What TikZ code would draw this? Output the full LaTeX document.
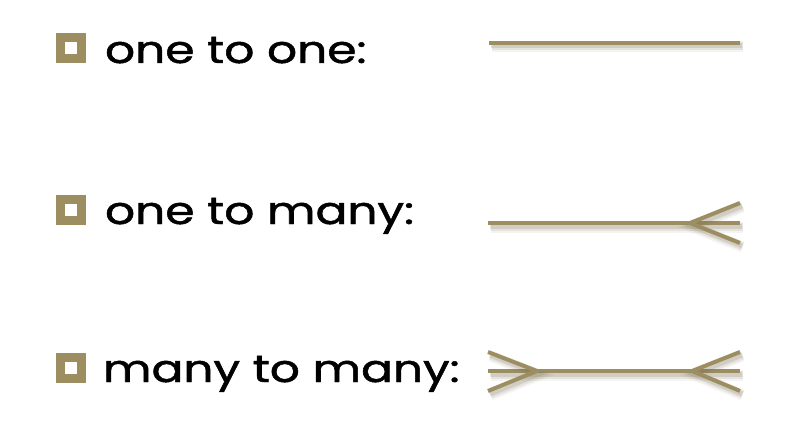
\documentclass[tikz,border=0pt]{standalone}
\usepackage{fontspec}
\setmainfont{Poppins}
\newfontfamily\lblfont{Poppins}[BoldFont=Poppins, BoldFeatures={FakeBold=1.2}]
\definecolor{tanc}{RGB}{157,142,98}
\definecolor{shadowc}{RGB}{120,110,80}
\tikzset{
  bulletsq/.style={draw=tanc, line width=9pt, fill=white, minimum size=21pt, inner sep=0pt, outer sep=0pt},
  lbl/.style={anchor=base west, inner sep=0pt, outer sep=0pt, text=black, font=\lblfont\bfseries\fontsize{38}{38}\selectfont},
  rel/.style={draw=tanc, line width=4pt,
    preaction={draw=shadowc, opacity=0.07, line width=11pt, transform canvas={shift={(2.5pt,-4pt)}}},
    preaction={draw=shadowc, opacity=0.12, line width=8pt, transform canvas={shift={(2.5pt,-3.5pt)}}},
    preaction={draw=shadowc, opacity=0.18, line width=5pt, transform canvas={shift={(2pt,-3pt)}}}}
}
\newcommand{\wide}[1]{\scalebox{1.24}[1]{#1}}
\begin{document}
\begin{tikzpicture}[x=1pt,y=-1pt]
\useasboundingbox[fill=white] (0,0) rectangle (796,436);
% bullets
\node[bulletsq] (s1) at (71,48) {};
\node[bulletsq] (s2) at (71,209.5) {};
\node[bulletsq] (s3) at (71,367.5) {};
% labels
\node[lbl] (t1) at (105,63) {\wide{one to one:}};
\node[lbl] (t2) at (105,224) {\wide{one to many:}};
\node[lbl] (t3) at (103,382) {\wide{many to many:}};
% one to one
\coordinate (a1) at (489,43);
\coordinate (b1) at (740,43);
\draw[rel] (a1) -- (b1);
% one to many
\coordinate (a2) at (488,223);
\coordinate (b2) at (740,223);
\coordinate (f2) at (690,223);
\coordinate (u2) at (740,203);
\coordinate (d2) at (740,243);
\draw[rel] (a2) -- (b2);
\draw[rel] (u2) -- (f2) -- (d2);
% many to many
\coordinate (a3) at (488,371);
\coordinate (b3) at (740,371);
\coordinate (fl3) at (537,371);
\coordinate (ul3) at (488,352);
\coordinate (dl3) at (488,391);
\coordinate (fr3) at (692,371);
\coordinate (ur3) at (740,352);
\coordinate (dr3) at (740,391);
\draw[rel] (a3) -- (b3);
\draw[rel] (ul3) -- (fl3) -- (dl3);
\draw[rel] (ur3) -- (fr3) -- (dr3);
\end{tikzpicture}
\end{document}
